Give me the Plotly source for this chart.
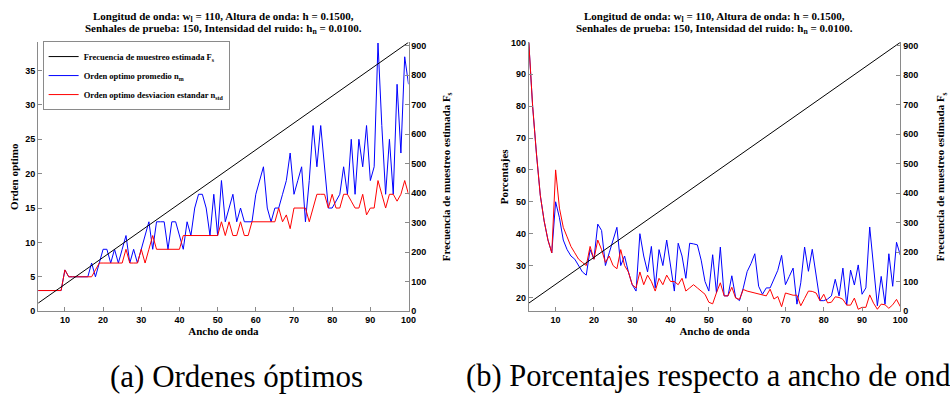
import plotly.graph_objects as go

# ---------------- data ----------------
ancho = list(range(3, 101))  # Ancho de onda 3..100

fs_x = [3, 100]
fs_val = [27.3, 911]

nm_left = [3, 3, 3, 3, 3, 3, 3, 6, 5, 5, 5, 5, 5, 5,
           7, 5, 7, 9, 9, 7, 9, 7, 9, 11, 7, 9, 7, 9, 11, 13, 9, 13, 13, 13, 9, 13, 13, 11, 9, 13, 11, 15, 17, 17, 15, 11, 17, 11, 19, 13, 15, 17,
           13, 15, 13, 13, 13, 17, 19, 21, 15, 13, 15, 15, 17, 19, 23, 17, 19, 21, 13, 19, 27, 21, 27, 21, 15, 15, 16, 17, 21, 17, 25, 17, 25, 21, 27, 19, 21, 39, 27, 17, 25, 17, 33, 23, 37, 33]

nstd_left = [3, 3, 3, 3, 3, 3, 3, 6, 5, 5, 5, 5, 5, 5,
             5, 6, 7, 7, 7, 7, 7, 7, 7, 9, 7, 7, 7, 9, 7, 9, 11, 9, 9, 9, 9, 9, 9, 9, 11, 11, 11, 11, 11, 11, 11, 11, 11, 11, 13, 11, 13, 11,
             11, 13, 11, 11, 13, 13, 13, 13, 13, 13, 13,
             15, 13, 14, 12, 15, 15, 15, 15, 13, 15, 17, 17, 17, 15, 17, 15, 15, 17, 17, 16, 15, 15, 17, 14, 15, 15, 19, 17, 15, 17, 17, 16, 17, 19, 17]

pct_blue = [100, 80, 65, 52, 44, 38, 34,
            50, 45, 38, 35, 33, 32, 30, 28, 27, 35, 32, 43, 41, 30, 34, 38, 42, 30, 33, 28, 24, 22, 40, 33, 28, 36, 23, 35, 30, 38, 30, 22, 37, 33, 26, 37,
            36.8, 36.5, 31.7, 25, 22, 33.4, 21.4, 35.8, 20.5, 20.5, 26.8, 20, 19, 23, 28.1, 30.6, 33.7, 23.5, 21, 23, 23, 25.7, 28.5, 33.2, 24,
            26.6, 29.2, 17.9, 24.6, 35.8, 28.2, 35.1, 27.1, 19, 19, 19.5, 20.5, 25.7, 20.5, 29.2, 17.6, 28.6, 23.9, 30.2, 21, 23, 42.1, 29.7, 17.4, 26.6,
            17.9, 33.7, 23.5, 37.3, 33.2]

pct_red = [100, 80, 65, 52, 44, 38, 34, 60, 48, 42, 39, 36, 34, 32, 31, 30, 36, 32, 38, 35, 31, 33, 30, 29, 35, 30, 28, 24, 23, 28, 24, 27, 25, 22, 26, 24, 27, 25, 25, 24, 26, 22, 23,
           24, 23, 22, 21, 18.5, 18, 21.5, 24.6, 20.5, 20.5, 23.2, 19.8, 19.4, 22.5, 22, 21.7, 21.4, 21.1, 20.8, 20.5, 22.6, 19.5, 20.3, 17.1, 21.4,
           21, 20.7, 20.7, 17.4, 19.7, 22, 21.9, 21.4, 19, 21, 18.3, 18.5, 20.2, 20, 19.4, 17.6, 17.6, 19.8, 16.3, 16.9, 16.9, 20.8, 18.2, 16.3, 17.9,
           17.7, 16.6, 17.7, 19.4, 17.1]

x_ticks = [10, 20, 30, 40, 50, 60, 70, 80, 90, 100]
y_left_ticks = [0, 5, 10, 15, 20, 25, 30, 35]
y_pct_ticks = [20, 30, 40, 50, 60, 70, 80, 90, 100]
y_fs_ticks = [0, 100, 200, 300, 400, 500, 600, 700, 800, 900]

title_l1 = "Longitud de onda: w<sub>l</sub> = 110, Altura de onda: h = 0.1500,"
title_l2 = "Senhales de prueba: 150, Intensidad del ruido: h<sub>n</sub> = 0.0100."

# ---------------- figure ----------------
W, H = 950, 401
BLUE = "#0000ff"
RED = "#ff0000"
AX = "#8a8a8a"
SERIF = "Liberation Serif"
SANS = "Liberation Sans"

fig = go.Figure()
fig.add_trace(go.Scatter(x=fs_x, y=fs_val, mode="lines", line=dict(color="black", width=1),
                         name="Frecuencia de muestreo estimada F<sub>s</sub>", xaxis="x", yaxis="y2",
                         legendgroup="a"))
fig.add_trace(go.Scatter(x=ancho, y=nm_left, mode="lines", line=dict(color=BLUE, width=1),
                         name="Orden optimo promedio n<sub>m</sub>", xaxis="x", yaxis="y", legendgroup="b"))
fig.add_trace(go.Scatter(x=ancho, y=nstd_left, mode="lines", line=dict(color=RED, width=1),
                         name="Orden optimo desviacion estandar n<sub>std</sub>", xaxis="x", yaxis="y",
                         legendgroup="c"))

fig.add_trace(go.Scatter(x=ancho, y=pct_blue, mode="lines", line=dict(color=BLUE, width=1),
                         showlegend=False, xaxis="x2", yaxis="y3"))
fig.add_trace(go.Scatter(x=ancho, y=pct_red, mode="lines", line=dict(color=RED, width=1),
                         showlegend=False, xaxis="x2", yaxis="y3"))
fig.add_trace(go.Scatter(x=fs_x, y=fs_val, mode="lines", line=dict(color="black", width=1),
                         showlegend=False, xaxis="x2", yaxis="y4"))

tickfont = dict(family=SANS, size=9, color="black", weight="bold")
titlefont = dict(family=SERIF, size=11, color="black", weight="bold")

def ax(**kw):
    base = dict(showline=True, linecolor=AX, linewidth=1, ticks="inside", ticklen=4, tickcolor=AX,
                showgrid=False, zeroline=False, tickfont=tickfont, fixedrange=True)
    base.update(kw)
    return base

ydom = [1 - 314 / H, 1 - 38.3 / H]
xdom1 = [38.5 / W, 412 / W]
xdom2 = [533.3 / W, 908 / W]

fig.update_layout(
    width=W, height=H, margin=dict(l=0, r=0, t=0, b=0),
    paper_bgcolor="white", plot_bgcolor="white",
    xaxis=ax(domain=xdom1, range=[3, 100], anchor="y", tickvals=x_ticks,
             title=dict(text="Ancho de onda", font=titlefont, standoff=3)),
    yaxis=ax(domain=ydom, range=[0, 39.1], anchor="x", tickvals=y_left_ticks,
             title=dict(text="Orden optimo", font=titlefont, standoff=4)),
    yaxis2=ax(domain=ydom, range=[0, 911], anchor="x", overlaying="y", side="right", tickvals=y_fs_ticks,
              title=dict(text="Frecuencia de muestreo estimada F<sub>s</sub>", font=titlefont, standoff=16)),
    xaxis2=ax(domain=xdom2, range=[3, 100], anchor="y3", tickvals=x_ticks,
              title=dict(text="Ancho de onda", font=titlefont, standoff=3)),
    yaxis3=ax(domain=ydom, range=[15.7, 100], anchor="x2", tickvals=y_pct_ticks,
              title=dict(text="Porcentajes", font=titlefont, standoff=0)),
    yaxis4=ax(domain=ydom, range=[0, 911], anchor="x2", overlaying="y3", side="right", tickvals=y_fs_ticks,
              title=dict(text="Frecuencia de muestreo estimada F<sub>s</sub>", font=titlefont, standoff=19)),
    legend=dict(x=43 / W, y=1 - 37 / H, xanchor="left", yanchor="top", bgcolor="white",
                bordercolor=AX, borderwidth=1, traceorder="grouped", tracegroupgap=0,
                font=dict(family=SERIF, size=8.5, color="black", weight="bold")),
    showlegend=True,
)

for cx in [(xdom1[0] + xdom1[1]) / 2, (xdom2[0] + xdom2[1]) / 2]:
    fig.add_annotation(text=title_l1, x=cx, y=1 - 12 / H, xref="paper", yref="paper",
                       xanchor="center", yanchor="middle", showarrow=False,
                       font=dict(family=SERIF, size=11, color="black", weight="bold"))
    fig.add_annotation(text=title_l2, x=cx, y=1 - 24.5 / H, xref="paper", yref="paper",
                       xanchor="center", yanchor="middle", showarrow=False,
                       font=dict(family=SERIF, size=11, color="black", weight="bold"))

fig.add_annotation(text="(a) Ordenes óptimos", x=239 / W, y=1 - 381 / H, xref="paper", yref="paper",
                   xanchor="center", yanchor="middle", showarrow=False,
                   font=dict(family=SERIF, size=31, color="black"))
fig.add_annotation(text="(b) Porcentajes respecto a ancho de onda", x=468 / W, y=1 - 381 / H,
                   xref="paper", yref="paper", xanchor="left", yanchor="middle", showarrow=False,
                   font=dict(family=SERIF, size=30.5, color="black"))

fig.write_html("out.html")
